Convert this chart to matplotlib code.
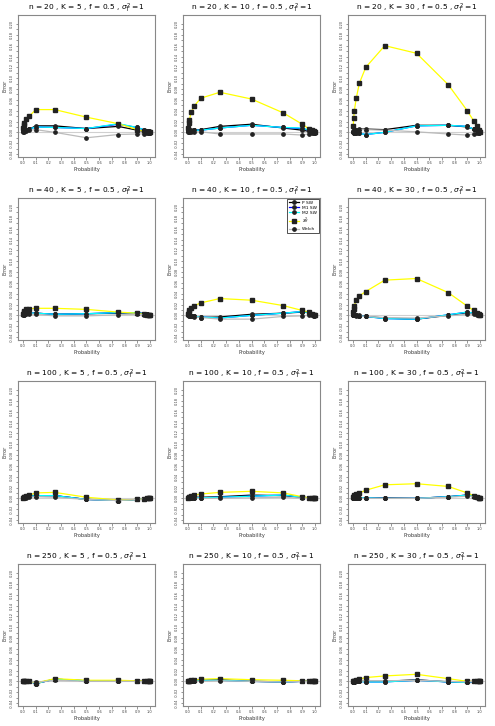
import matplotlib
matplotlib.use("Agg")
import matplotlib.pyplot as plt
import numpy as np

prob = [0.001, 0.005, 0.01, 0.025, 0.05, 0.1, 0.25, 0.5, 0.75, 0.9, 0.95, 0.975, 0.99, 0.995, 0.999]
n_values = [20, 40, 100, 250]
k_values = [5, 10, 30]

# panel order: (n=20,K=5), (20,10), (20,30), (40,5), (40,10), (40,30), (100,5), ...
p_sw = [
    [0.003, 0.004, 0.004, 0.005, 0.006, 0.012, 0.012, 0.007, 0.011, 0.004, 0.002, 0.001, 0.0, -0.001, -0.001],
    [0.002, 0.003, 0.003, 0.004, 0.004, 0.005, 0.011, 0.015, 0.008, 0.004, 0.002, 0.001, 0.0, 0.0, -0.001],
    [0.002, 0.003, 0.004, 0.005, 0.006, 0.006, 0.005, 0.013, 0.013, 0.010, 0.006, 0.004, 0.002, 0.001, 0.0],
    [0.002, 0.003, 0.003, 0.004, 0.004, 0.004, 0.002, 0.003, 0.004, 0.005, 0.003, 0.002, 0.001, 0.0, 0.0],
    [0.001, 0.0, 0.0, -0.001, -0.002, -0.004, -0.003, 0.002, 0.004, 0.006, 0.007, 0.003, -0.001, -0.001, 0.0],
    [0.001, 0.001, 0.001, 0.0, 0.0, -0.002, -0.005, -0.007, 0.0, 0.005, 0.004, 0.002, 0.001, 0.0, 0.0],
    [0.001, 0.001, 0.002, 0.003, 0.004, 0.005, 0.005, -0.002, -0.004, -0.002, -0.001, 0.0, 0.001, 0.0, 0.0],
    [0.0, 0.001, 0.001, 0.001, 0.002, 0.002, 0.003, 0.006, 0.005, 0.002, 0.001, 0.0, 0.0, 0.0, 0.0],
    [0.0, 0.001, 0.001, 0.001, 0.001, 0.001, 0.001, 0.0, 0.003, 0.006, 0.004, 0.002, 0.001, 0.0, 0.0],
    [0.0, 0.0, 0.0, 0.0, 0.0, -0.004, 0.004, 0.001, 0.001, 0.0, 0.0, 0.0, 0.0, 0.0, 0.0],
    [0.0, 0.0, 0.0, 0.001, 0.001, 0.002, 0.003, 0.0, -0.001, 0.0, 0.0, 0.0, 0.0, 0.0, 0.0],
    [-0.001, -0.001, -0.001, 0.0, 0.0, 0.0, 0.0, 0.003, -0.001, -0.002, 0.0, 0.0, 0.0, 0.0, 0.0],
]
m1_sw = [
    [0.003, 0.004, 0.004, 0.005, 0.006, 0.010, 0.009, 0.007, 0.015, 0.009, 0.005, 0.003, 0.002, 0.001, 0.0],
    [0.002, 0.003, 0.003, 0.003, 0.004, 0.004, 0.008, 0.013, 0.009, 0.007, 0.004, 0.002, 0.001, 0.0, 0.0],
    [0.0, -0.001, -0.001, -0.002, -0.002, -0.004, 0.0, 0.012, 0.013, 0.011, 0.006, 0.004, 0.002, 0.001, 0.0],
    [0.002, 0.003, 0.003, 0.004, 0.004, 0.004, 0.002, 0.003, 0.005, 0.005, 0.003, 0.002, 0.001, 0.0, 0.0],
    [0.001, 0.0, 0.0, -0.001, -0.002, -0.003, -0.005, 0.0, 0.004, 0.007, 0.005, 0.003, 0.001, 0.0, 0.0],
    [0.001, 0.001, 0.0, 0.0, -0.001, -0.002, -0.006, -0.007, 0.001, 0.006, 0.004, 0.002, 0.001, 0.0, 0.0],
    [0.001, 0.001, 0.002, 0.003, 0.004, 0.005, 0.005, -0.002, -0.004, -0.002, -0.001, 0.0, 0.001, 0.0, 0.0],
    [0.0, 0.001, 0.001, 0.001, 0.001, 0.001, 0.002, 0.004, 0.006, 0.002, 0.001, 0.0, 0.0, 0.0, 0.0],
    [0.0, 0.001, 0.001, 0.001, 0.001, 0.001, 0.0, 0.0, 0.003, 0.006, 0.004, 0.002, 0.001, 0.0, 0.0],
    [0.0, 0.0, 0.0, 0.0, 0.0, -0.004, 0.004, 0.001, 0.001, 0.0, 0.0, 0.0, 0.0, 0.0, 0.0],
    [0.0, 0.0, 0.0, 0.001, 0.001, 0.002, 0.002, 0.0, -0.001, 0.0, 0.0, 0.0, 0.0, 0.0, 0.0],
    [-0.001, -0.001, -0.001, 0.0, 0.0, -0.001, -0.001, 0.002, -0.001, -0.002, 0.0, 0.0, 0.0, 0.0, 0.0],
]
m2_sw = [
    [0.003, 0.004, 0.004, 0.005, 0.006, 0.010, 0.009, 0.007, 0.016, 0.009, 0.005, 0.003, 0.002, 0.001, 0.0],
    [0.002, 0.003, 0.003, 0.003, 0.004, 0.004, 0.008, 0.013, 0.009, 0.008, 0.004, 0.002, 0.001, 0.0, 0.0],
    [0.0, -0.001, -0.001, -0.002, -0.002, -0.004, 0.0, 0.012, 0.013, 0.011, 0.006, 0.004, 0.002, 0.001, 0.0],
    [0.002, 0.003, 0.003, 0.004, 0.004, 0.004, 0.002, 0.003, 0.005, 0.005, 0.003, 0.002, 0.001, 0.0, 0.0],
    [0.001, 0.0, 0.0, -0.001, -0.002, -0.003, -0.005, 0.0, 0.004, 0.007, 0.005, 0.003, 0.001, 0.0, 0.0],
    [0.001, 0.001, 0.0, 0.0, -0.001, -0.002, -0.006, -0.007, 0.001, 0.006, 0.004, 0.002, 0.001, 0.0, 0.0],
    [0.001, 0.001, 0.002, 0.003, 0.004, 0.005, 0.005, -0.002, -0.004, -0.002, -0.001, 0.0, 0.001, 0.0, 0.0],
    [0.0, 0.001, 0.001, 0.001, 0.001, 0.001, 0.002, 0.004, 0.006, 0.002, 0.001, 0.0, 0.0, 0.0, 0.0],
    [0.0, 0.001, 0.001, 0.001, 0.001, 0.001, 0.0, 0.0, 0.003, 0.006, 0.004, 0.002, 0.001, 0.0, 0.0],
    [0.0, 0.0, 0.0, 0.0, 0.0, -0.004, 0.004, 0.001, 0.001, 0.0, 0.0, 0.0, 0.0, 0.0, 0.0],
    [0.0, 0.0, 0.0, 0.001, 0.001, 0.002, 0.002, 0.0, -0.001, 0.0, 0.0, 0.0, 0.0, 0.0, 0.0],
    [-0.001, -0.001, -0.001, 0.0, 0.0, -0.001, -0.001, 0.002, -0.001, -0.002, 0.0, 0.0, 0.0, 0.0, 0.0],
]
chi_h = [
    [0.008, 0.014, 0.017, 0.025, 0.030, 0.042, 0.042, 0.028, 0.016, 0.005, 0.002, 0.001, 0.0, 0.0, 0.0],
    [0.008, 0.017, 0.023, 0.0375, 0.049, 0.063, 0.074, 0.0615, 0.036, 0.015, 0.007, 0.004, 0.002, 0.001, 0.0],
    [0.011, 0.026, 0.040, 0.063, 0.091, 0.120, 0.160, 0.146, 0.088, 0.040, 0.0215, 0.011, 0.005, 0.002, 0.0],
    [0.003, 0.006, 0.008, 0.011, 0.012, 0.013, 0.013, 0.011, 0.006, 0.004, 0.002, 0.001, 0.0, 0.0, 0.0],
    [0.003, 0.007, 0.010, 0.013, 0.018, 0.023, 0.031, 0.028, 0.018, 0.009, 0.006, 0.003, 0.001, 0.0, 0.0],
    [0.006, 0.012, 0.018, 0.028, 0.036, 0.044, 0.065, 0.068, 0.042, 0.017, 0.009, 0.005, 0.002, 0.001, 0.0],
    [0.001, 0.002, 0.003, 0.005, 0.006, 0.010, 0.011, 0.002, -0.003, -0.002, -0.001, 0.0, 0.0, 0.0, 0.0],
    [0.001, 0.002, 0.003, 0.004, 0.006, 0.008, 0.011, 0.013, 0.010, 0.003, 0.001, 0.0, 0.0, 0.0, 0.0],
    [0.002, 0.004, 0.006, 0.008, 0.010, 0.015, 0.025, 0.027, 0.022, 0.010, 0.005, 0.003, 0.001, 0.0, 0.0],
    [0.0, 0.0, 0.0, 0.0, 0.0, -0.003, 0.005, 0.002, 0.002, 0.001, 0.001, 0.0, 0.0, 0.0, 0.0],
    [0.0, 0.001, 0.001, 0.002, 0.002, 0.004, 0.005, 0.003, 0.002, 0.001, 0.0, 0.0, 0.0, 0.0, 0.0],
    [0.0, 0.001, 0.001, 0.002, 0.004, 0.007, 0.010, 0.013, 0.005, 0.0, 0.0, 0.0, 0.0, 0.0, 0.0],
]
welch = [
    [0.0, 0.001, 0.002, 0.003, 0.004, 0.005, 0.0, -0.010, -0.004, -0.003, -0.003, -0.002, -0.001, -0.001, 0.0],
    [0.0, 0.001, 0.001, 0.001, 0.001, 0.001, -0.003, -0.003, -0.003, -0.005, -0.003, -0.002, -0.001, -0.001, 0.0],
    [0.0, 0.002, 0.003, 0.004, 0.005, 0.005, 0.004, 0.001, -0.003, -0.005, -0.003, -0.002, -0.001, -0.001, 0.0],
    [0.0, 0.001, 0.001, 0.002, 0.002, 0.002, -0.001, -0.001, 0.001, 0.002, 0.001, 0.0, 0.0, 0.0, 0.0],
    [0.0, -0.001, -0.001, -0.002, -0.003, -0.004, -0.007, -0.007, -0.002, -0.001, 0.0, 0.0, 0.0, 0.0, 0.0],
    [0.0, 0.0, 0.0, -0.001, -0.001, -0.002, -0.004, -0.005, -0.001, 0.002, 0.002, 0.001, 0.0, 0.0, 0.0],
    [0.0, 0.0, 0.001, 0.001, 0.002, 0.003, 0.002, -0.002, -0.004, -0.002, -0.001, 0.0, 0.0, 0.0, 0.0],
    [0.0, 0.0, 0.0, 0.0, 0.0, 0.0, 0.0, 0.001, 0.002, 0.0, 0.0, 0.0, 0.0, 0.0, 0.0],
    [0.0, 0.0, 0.0, 0.0, 0.0, 0.0, 0.0, 0.0, 0.002, 0.004, 0.003, 0.002, 0.001, 0.0, 0.0],
    [0.0, 0.0, 0.0, 0.0, 0.0, -0.002, 0.002, 0.0, 0.0, 0.0, 0.0, 0.0, 0.0, 0.0, 0.0],
    [0.0, 0.0, 0.0, 0.0, 0.0, 0.0, 0.001, 0.0, -0.001, 0.0, 0.0, 0.0, 0.0, 0.0, 0.0],
    [0.0, 0.0, 0.0, 0.0, 0.0, 0.001, 0.001, 0.002, 0.0, -0.001, 0.0, 0.0, 0.0, 0.0, 0.0],
]
series_labels = ["P SW", "M1 SW", "M2 SW", r"$\chi^2_H$", "Welch"]
series_colors = ["black", "blue", "cyan", "yellow", "#bbbbbb"]

W, H = 495, 726
fig = plt.figure(figsize=(W / 100, H / 100), dpi=100)
plt.rcParams['font.family'] = ['DejaVu Sans']

left_px = [18, 183, 348]
top_px = [15, 198, 381, 564]
w_px, h_px = 137, 142

for r, n in enumerate(n_values):
    for c, k in enumerate(k_values):
        idx = r * 3 + c
        ax = fig.add_axes([left_px[c] / W, 1 - (top_px[r] + h_px) / H, w_px / W, h_px / H])
        ax.axhline(0, color="#d0d0d0", lw=0.8, zorder=1)
        data = [p_sw[idx], m1_sw[idx], m2_sw[idx], chi_h[idx], welch[idx]]
        for j, (vals, col, lab) in enumerate(zip(data, series_colors, series_labels)):
            mk = "s" if j == 3 else "o"
            ax.plot(prob, vals, color=col, lw=0.9, marker=mk, ms=2.4,
                    mfc="#222222", mec="#222222", label=lab, zorder=2 + j)
        ax.set_xlim(-0.04, 1.04)
        ax.set_ylim(-0.0455, 0.2166)
        ax.set_xticks(np.arange(0, 1.01, 0.1))
        ax.set_xticklabels([f"{v:.1f}" for v in np.arange(0, 1.01, 0.1)])
        yt = np.arange(-0.04, 0.2001, 0.02)
        ax.set_yticks(yt)
        ax.set_yticklabels([f"{v:.2f}".replace("-0.00", "0.00") for v in yt], rotation=90, va="center")
        ax.set_yticks(np.arange(-0.04, 0.2001, 0.01), minor=True)
        ax.tick_params(axis="both", labelsize=2.6, length=1.8, width=0.4, pad=1.2, colors="#444444")
        ax.tick_params(axis="y", which="minor", length=1.2, width=0.4, colors="#444444")
        for s in ax.spines.values():
            s.set_color("#888888")
            s.set_linewidth(0.8)
        ax.set_xlabel("Probability", fontsize=3.6, labelpad=1.5, color="#333333")
        ax.set_ylabel("Error", fontsize=3.6, labelpad=1.5, color="#333333")
        ax.set_title(rf"n = {n} , K = {k} , f = 0.5 , $\sigma^2_T = 1$", fontsize=5.4, pad=3)
        if idx == 4:
            leg = ax.legend(loc="upper right", fontsize=3.2, frameon=True, fancybox=False,
                            edgecolor="black", handlelength=2.2, borderpad=0.4,
                            labelspacing=0.2, borderaxespad=0.2)
            leg.get_frame().set_linewidth(0.6)

fig.savefig("out.png", dpi=100)
